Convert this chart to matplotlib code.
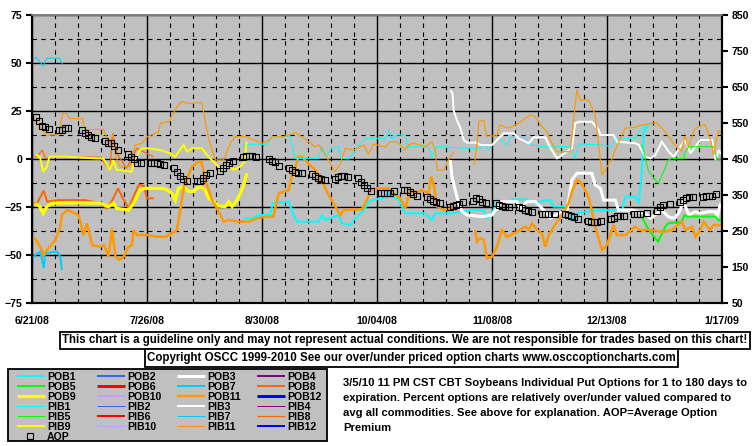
import numpy as np
import matplotlib
matplotlib.use("Agg")
import matplotlib.pyplot as plt
from matplotlib.patches import Rectangle

plt.rcParams['font.family'] = ['Liberation Sans', 'DejaVu Sans']
plt.rcParams['font.weight'] = 'bold'

W, H, DPI = 755, 446, 100
nan = np.nan

# ---------------- data ----------------
x_label_days = [0, 35, 70, 105, 140, 175, 210]
x_labels = ["6/21/08", "7/26/08", "8/30/08", "10/04/08", "11/08/08", "12/13/08", "1/17/09"]
left_ticks = [-75, -50, -25, 0, 25, 50, 75]
right_ticks = [50, 150, 250, 350, 450, 550, 650, 750, 850]

PIB7_d = [0, 1.2, 3.4, 4.5, 8.3, 9.3]
PIB7_v = [51.5, 53, 48.5, 52.5, 52.5, 49.5]
POB7_d = [0, 1, 2.5, 3.6, 4, 7.6, 8.6, 9.1]
POB7_v = [-52.6, -50, -48.3, -56.8, -49, -48.3, -50.9, -57.8]

POB8_d = [0, 1.5, 3.6, 4.6, 8.1, 16.2, 20.7, 22.8, 24.3, 26.2, 27.4, 29.4, 30.9, 32.5, 34, 35, 37]
POB8_v = [-23.1, -23.1, -16.5, -22.2, -21.4, -21.4, -23, -25.7, -22, -15.3, -19.6, -25.7, -19.6, -13.5, -14, -20.5, -20.5]
PIB8_d = [0, 1.6, 3.1, 4.2, 5.5, 20.7, 23.7, 24.6, 25.8, 28.8, 31.9, 36.9]
PIB8_v = [1.2, 1.2, 4.7, 0, 1, 1, -5.7, 13.4, 3, -4.8, 5.6, 1.2]

PIB9_d = [1.2, 2.4, 3.4, 4.5, 5.3, 10.6, 19.7, 21.7, 23.7, 24.7, 25.8, 26.8, 30.3, 31.3, 32.9, 33.9, 35,
          38.9, 42, 43.5, 45, 46.2, 47.2, 48.7, 51.7, 53.7, 56.2, 57.7, 60.3, 61.3, 63.3, 64.8, 65.3]
PIB9_v = [2.1, 1.2, -6.6, -4, 1.2, 1.2, 0.3, 0.3, -5.7, -0.5, -5.7, -5.7, -6.6, -0.5, 4.7, 5.6, 5.6,
          4.7, 3, 1.2, 4.7, 7.3, 3.8, 5.6, 5.6, 1.2, -3.1, -5.7, -4, -5.7, -4, -1.4, 9]
POB9_d = [0.9, 2.4, 3.4, 4.5, 6.1, 12.2, 20.7, 23.3, 24.8, 25.8, 29.4, 30.9, 31.9, 32.9, 34.5, 40, 41.1,
          42.6, 43.6, 44.6, 46.2, 47.7, 49.2, 50.2, 51.2, 52.7, 53.8, 55.3, 56.8, 58.8, 59.9, 60.9, 62.4,
          63.4, 64.4, 65.4]
POB9_v = [-23.1, -24.8, -28.3, -24.8, -23.1, -22.8, -23, -24.8, -23, -25.7, -26.6, -23.1, -19.6, -16.1,
          -15.3, -15.3, -16.1, -17.9, -21.4, -15.3, -14.4, -17, -17, -15.3, -14.4, -16.1, -20.5, -22.2,
          -24.5, -24.8, -22.2, -24.8, -21.4, -17.9, -13.5, -7.4]

PIB11_d = [0, 1.4, 4.3, 8.1, 9.3, 10.6, 11.4, 15.4, 16.1, 18.8, 21.8, 22.8, 23.7, 24.6, 25.6, 26.8, 29.8,
           31.4, 33.5, 35, 38.6, 39, 41.6, 44.1, 45.7, 47.2, 51.7, 53.8, 55.8, 58.3, 60.3, 61.8, 65.3,
           67.4, 70.4, 72.4, 73.4, 76.5, 80.3, 82.1, 84.1, 86.1, 87.3, 89.3, 92.2, 93.7, 95.4, 97.9,
           101, 102.4, 103.9, 107.5, 109, 111.1, 112.6, 113.6, 114.6, 116.2, 119.7, 121.7, 122.7, 123.3,
           125.4, 126.9, 128.4, 131, 134.6, 135.4, 136, 137.5, 138, 138.4, 141.4, 142.4, 145, 148, 151.6,
           153.1, 155.1, 157.1, 157.7, 159.7, 163.8, 165.8, 166.8, 169.3, 171.3, 173.5, 175, 176.4, 177.5,
           180.5, 183.5, 185.5, 190.1, 192.7, 195.2, 197.7, 198.7, 199.7, 201.8, 204.8, 206.8, 207.4,
           208.9, 210]
PIB11_v = [22.9, 18.6, 12.5, 12.5, 23.8, 23.8, 21, 21, 15.2, 15.4, 15.4, 10.8, 8, 13, 1, -4, -4,
           7.3, 8.2, 11.6, 14.2, 18.6, 19.4, 27.2, 29.9, 29, 29.3, 9.9, -0.5, -0.5, 8.2, 11.6, 11.6,
           9.9, 8.2, 10.2, 11.6, 11.6, 13.7, 11.6, 9, 6.4, 7.3, 2.1, -6.6, -3.1, 5.6, 4.7,
           7.3, 2.6, 7.8, 6.2, 9, 9, 6.4, 4.7, 7.3, 8.2, 6.4, 9, 4.7, -5.7,
           -5.7, 0, 3.8, nan, -3.1, 6.4, 19.4, 20.3, 15, 12, 12, 17.7, 16, 18.6, 22.9,
           22, 17.2, 13.4, 9.9, 3.8, 3.8, 35.9, 30.7, 30.7, 23.8, -8.3, -4, -0.5, 4.7,
           16, 16.5, 17.7, 19, 14.2, 8.2, 4, 12, 6.4, 16, 18, 8.2, 2,
           15, 13.4]

POB11_d = [0, 1.2, 3, 3.4, 4.5, 7.1, 8.6, 9.1, 10.7, 14.2, 15.7, 16.7, 18.3, 20.8, 21.9, 23.3, 24.3, 25.4,
           26.6, 27.9, 29.2, 30.4, 30.9, 32, 35, 38, 40.6, 42.6, 44.1, 45.1, 46.2, 48.7, 50.7, 51.6, 52.7,
           54.8, 56.3, 58.3, 59.9, 62.9, 66, 68.4, 71.4, 73.4, 74.6, 75.1, 78.1, 79.1, 80.1, 81.1, 82.1,
           84.1, 86.2, 88.8, 90.3, 91.8, 93.8, 94.9, 100.4, 101.9, 103, 104.5, 108.6, 110.1, 112.1, 113.6,
           114.6, 115.1, 117.7, 118.7, 120.7, 121.5, 122.3, 123.3, 125.3, 127.8, 129.4, 132, 134.9, 135.4,
           136.4, 137.5, 138.5, 140, 141.5, 143, 144.6, 147.6, 150.1, 151.2, 152.2, 153.7, 155.2, 156.2,
           157.3, 159.8, 161.3, 163.3, 164.3, 165.9, 166.9, 168.9, 169.9, 171.4, 173.5, 175, 177, 178,
           180.6, 183.6, 185.1, 188.7, 191.7, 194.8, 197.8, 198.8, 200.9, 201.9, 203.4, 204.4, 206.4,
           207.4, 210]
POB11_v = [-40.5, -42, -47.4, -50, -47.4, -42.2, -35.3, -29.2, -26.6, -29.2, -39.6, -33.5, -44.8, -45.7,
           -44.8, -50.9, -36.1, -50.9, -52.6, -50.9, -46, -44.8, -37, -39.6, -39.6, -40.5, -40.5, -38.7,
           -37, -26.6, -14.4, -4, -1.4, -1.4, -10.9, -21.4, -25.7, -32.6, -31.8, -32.6, -32.6, -30.9,
           -30, -30, -21.4, -17.9, -16.1, -8.3, -4.8, 1.2, 1.2, -2.3, -5.7, -13.5, -18.8, -23.1, -29.2,
           -26.6, -26.2, -21.4, -16.1, -15.3, -15.3, -17.9, -20.5, -25.7, -19.6, -17, -17, -16.1, -17.9,
           -9.2, -13.5, -24.8, -26.6, -25.7, -26.6, nan, -37, -43.1, -41.3, -42.2, -51.7, -50.9, -45.7,
           -37, -40.5, -37.9, -35.3, -37, -33.5, -37, -38.7, -45.7, -39.6, -32.6, -29.2, -23.1, -17,
           -10.9, -11.8, -17.9, -23.1, -35.3, -47.4, -44.8, -34.4, -39.6, -39.6, -35.3, -37, -37, -37.9,
           -37, -32.6, -37, -35.3, -40.5, -37, -32.6, -37, -34.4, -34.4]

POB1_d = [64.3, 67.4, 68.9, 72.4, 73.3, 78.1, 79.6, 80.7, 87.3, 88.3, 89.3, 93.3, 94.3, 96.9, 97.9, 99.4,
          101, 102.5, 103.5, 106.5, 108, 108.6, 109.1, 111.6, 113.6, 119.7, 121.7, 122.7, 127.8, 130.9,
          134.9, 137.5, 138.5, 140, 140.9, 141.5, 145.1, 146.1, 150.1, 151.2, 153.2, 155.7, 157.7, 158.8,
          162.3, 163.8, 164.9, 165.9, 168.4, 175.5, 179.6, 180.6, 183.6, 184.7, 185.5, 186.2, 187.6]
POB1_v = [-30.9, -30.9, -29.2, -29.2, -23.1, -22.2, -29.2, -32.6, -32.6, -29.2, -31.8, -29.2, -33.5, -34.4,
          -31.8, -29.2, -26.6, -22.2, -21.4, -20.5, -19.6, -14.4, -19.6, -21, -28.3, -28.3, -31.8, -28.3,
          -28.3, -27.4, -26.6, -26.6, -30.9, -28.3, -24.8, -22.2, -23.1, -21, -21, -21.8, -23.1, -21.8,
          -21.4, -24.8, -24.8, -29.2, -31.8, -28.3, -27.4, -26.6, -26.6, -19.6, -19.6, -23.1, -8, 14.2, 17.7]

PIB1_d = [64.3, 69.4, 71.4, 73, 77.1, 78.5, 80.1, 85.2, 87, 88.3, 89.3, 91.3, 93.3, 94.3, 96.4, 98.9, 101.4,
          107.5, 108.6, 109.3, 110.1, 110.6, 113.6, 114.6, 120.2, 121.2, 121.7, 122.7, 123.3, 125.3, 130.9,
          136, 137.5, 139, 140, 142, 144.6, 145.6, 150.1, 151.7, 156.2, 164.3, 165.3, 166.4, 166.9, 173.5,
          176.5, 177.5, 183.6, 185.1, 187.2]
PIB1_v = [7.3, 7.8, 7.3, 11.6, 11.6, 11.6, 0.3, 0.3, 0.3, 6.4, 1.2, 5.6, 6.4, 0.3, 0, 5.6, 10.8,
          10.8, 15.1, 10.8, 10.8, 12.5, 12.5, 6.4, 6.4, 4.7, 0.3, 4.7, 6.4, 6.4, 5.6,
          5.6, 7.3, 4.7, 7.3, 10.8, 7.3, 11.3, 11.3, 7.3, 6.4, 6.4, 0.3, 7.3, 7.8, 7.3,
          6.4, 10.8, 10.8, 15.1, 17.7]

POB3_d = [127.3, 127.8, 128.8, 129.8, 130.9, 132.4, 137, 140, 143, 147.6, 148.6, 150.7, 153.2, 156.2, 157.7,
          160.3, 162.8, 164.3, 165.9, 170.4, 171.4, 173, 174, 177.5, 178.5, 182.6, 186.6, 188.2, 191.7,
          193.6, 195.3, 196.8, 198.3, 199.9, 201.8, 203.4, 206, 208, 208.5, 209.5]
POB3_v = [-0.5, -9.2, -16.1, -23.1, -27.4, -29.2, -30, -29.2, -22.2, -22.2, -25.7, -22.2, -22.2, -27.4,
          -30.9, -28.3, -27.4, -10.9, -7.4, -7.4, -13.5, -15.3, -21.4, -21.4, -26.6, -26.6, -28.3, -30.9,
          -26.6, -30, -30.9, -28.3, -22.2, -29.2, -27.5, -28.3, -27.4, -27.4, -30.9, -23.1]

PIB3_d = [127.3, 128, 128.3, 129.3, 130.4, 131.4, 132.4, 135.4, 136.4, 140, 143.6, 146.6, 148.1, 151.2,
          152.7, 156.2, 157.3, 158.8, 159.8, 162.8, 164.3, 165.3, 166.4, 170.4, 172.5, 173, 177, 178,
          183.6, 184.7, 186.6, 188.2, 189.7, 191.7, 193.8, 195.3, 197.3, 198.8, 200.4, 203.4, 207, 208,
          209, 210]
PIB3_v = [35.9, 34.2, 25.5, 20.3, 16, 9.9, 8.5, 8.5, 7.3, 7.3, 13.4, 13.4, 10.8, 8.2,
          11.3, 11.3, 7.3, 3, 0.3, 3.8, 5.6, 18.6, 19.4, 19.4, 15.1, 12.5, 12.5, 9,
          8.2, 7.3, 1.2, 0.3, 2, 9, 3.8, 1.2, 6.4, 9.9, 3, 9.9, 9.9, -0.5,
          4.7, 2.1]

PIB5_d = [185.5, 186.1, 187.6, 189.2, 190.6, 192.7, 193.6, 194.8, 198.3, 198.8, 199.9, 207.5, 208.4, 210]
PIB5_v = [7.3, 4.7, -6, -10, -12.7, -4.8, -0.5, 0.3, 0.3, 3.8, 6.4, 6.4, 0, -0.5]
POB5_d = [185.5, 187.6, 189.7, 190.6, 192.7, 193.6, 197.8, 198.6, 199.4, 208, 209, 210]
POB5_v = [-30, -36.5, -41.3, -43, -35.3, -33.5, -32.6, -29.2, -30, -30, -32, -32]

# AOP (right axis): trading days since 6/21/08 and values
AOP_days = [2, 3, 4, 5, 6, 9, 10, 11, 12, 16, 17, 18, 19, 20, 23, 24, 25, 26, 27, 30, 31, 32, 33, 34,
            37, 38, 39, 40, 41, 44, 45, 46, 47, 48, 51, 52, 53, 54, 55, 58, 59, 60, 61, 62, 65, 66, 67, 68, 69,
            73, 74, 75, 76, 79, 80, 81, 82, 83, 86, 87, 88, 89, 90, 93, 94, 95, 96, 97, 100, 101, 102, 103, 104,
            107, 108, 109, 110, 111, 114, 115, 116, 117, 118, 121, 122, 123, 124, 125, 128, 129, 130, 131, 132,
            135, 136, 137, 138, 139, 142, 143, 144, 145, 146, 149, 150, 151, 152, 153, 156, 157, 158, 160,
            163, 164, 165, 166, 167, 170, 171, 172, 173, 174, 177, 178, 179, 180, 181, 184, 185, 186, 188,
            191, 192, 193, 195, 198, 199, 200, 201, 202, 205, 206, 207, 208, 209]
AOP_vals = [566, 556, 542, 538, 533, 531, 531, 537, 537, 531, 523, 517, 512, 508, 500, 495, 494, 486, 475,
            464, 456, 449, 440, 440, 440, 440, 440, 436, 433, 424, 415, 403, 394, 389, 389, 389, 398, 406, 410,
            418, 424, 433, 440, 445, 456, 458, 458, 458, 455, 450, 445, 441, 431, 426, 420, 415, 412, 410,
            408, 404, 398, 394, 392, 394, 401, 404, 404, 401, 398, 387, 378, 369, 362, 356, 356, 356, 356, 362,
            364, 364, 359, 353, 348, 344, 338, 333, 330, 329, 318, 319, 322, 325, 331, 333, 341, 338, 331, 329,
            327, 322, 319, 318, 318, 316, 313, 308, 306, 302, 296, 296, 296, 296, 297, 294, 292, 288, 283,
            279, 274, 274, 276, 279, 283, 287, 292, 292, 292, 296, 297, 297, 299, 306, 316, 322, 325,
            331, 336, 341, 344, 345, 345, 347, 347, 348, 353]
AOP_SHIFT = 0.9  # squares sit slightly left of their trading day

legend_names = ['POB1', 'POB2', 'POB3', 'POB4', 'POB5', 'POB6', 'POB7', 'POB8', 'POB9', 'POB10', 'POB11',
                'POB12', 'PIB1', 'PIB2', 'PIB3', 'PIB4', 'PIB5', 'PIB6', 'PIB7', 'PIB8', 'PIB9', 'PIB10',
                'PIB11', 'PIB12']
styles = {
    'POB1': ('#00FFFF', 2), 'POB2': ('#3366FF', 2), 'POB3': ('#FFFFFF', 3), 'POB4': ('#800080', 2),
    'POB5': ('#00FF00', 2), 'POB6': ('#FF0000', 3), 'POB7': ('#00CCFF', 2), 'POB8': ('#FF6600', 2),
    'POB9': ('#FFFF00', 3.2), 'POB10': ('#CC99FF', 2), 'POB11': ('#FF9900', 2.5), 'POB12': ('#0000FF', 3),
    'PIB1': ('#00FFFF', 1), 'PIB2': ('#3366FF', 1), 'PIB3': ('#FFFFFF', 2), 'PIB4': ('#800080', 1),
    'PIB5': ('#00FF00', 1), 'PIB6': ('#FF0000', 2), 'PIB7': ('#00CCFF', 1), 'PIB8': ('#FF6600', 1.2),
    'PIB9': ('#FFFF00', 2), 'PIB10': ('#CC99FF', 1), 'PIB11': ('#FF9900', 1.2), 'PIB12': ('#0000FF', 2),
}
series = {
    'POB1': (POB1_d, POB1_v), 'POB3': (POB3_d, POB3_v), 'POB5': (POB5_d, POB5_v), 'POB7': (POB7_d, POB7_v),
    'POB8': (POB8_d, POB8_v), 'POB9': (POB9_d, POB9_v), 'POB11': (POB11_d, POB11_v),
    'PIB1': (PIB1_d, PIB1_v), 'PIB3': (PIB3_d, PIB3_v), 'PIB5': (PIB5_d, PIB5_v), 'PIB7': (PIB7_d, PIB7_v),
    'PIB8': (PIB8_d, PIB8_v), 'PIB9': (PIB9_d, PIB9_v), 'PIB11': (PIB11_d, PIB11_v),
}

disclaimer = "This chart is a guideline only and may not represent actual conditions. We are not responsible for trades based on this chart!"
copyright_txt = "Copyright OSCC 1999-2010 See our over/under priced option charts www.osccoptioncharts.com"
note_lines = ["3/5/10 11 PM CST CBT Soybeans Individual Put Options for 1 to 180 days to",
              "expiration. Percent options are relatively over/under valued compared to",
              "avg all commodities. See above for explanation. AOP=Average Option",
              "Premium"]

PX = 0.72  # points per pixel
FS = 7.6
FS_TXT = 8.3

# ---------------- figure ----------------
fig = plt.figure(figsize=(W / DPI, H / DPI), dpi=DPI, facecolor='white')
ax = fig.add_axes([32 / W, (H - 303) / H, 690 / W, 288 / H])
ax.set_facecolor('#C0C0C0')
ax.set_xlim(0, 210)
ax.set_ylim(-75, 75)
ax.set_xticks(x_label_days)
ax.set_xticklabels(x_labels)
ax.set_xticks([d for d in range(0, 211, 7) if d % 35], minor=True)
ax.set_yticks(left_ticks)
ax.set_yticks([v for v in np.arange(-62.5, 75, 25)], minor=True)
ax.grid(which='major', color='black', lw=1.0, ls='-')
ax.grid(which='minor', color='black', lw=0.8, ls=(0, (4, 4)))
ax.set_axisbelow(True)
ax.tick_params(which='minor', length=0)
ax.tick_params(axis='y', which='major', length=4, width=1.5, direction='out', pad=3, labelsize=FS)
ax.tick_params(axis='x', which='major', length=0, pad=9, labelsize=FS)
for lab in ax.get_xticklabels() + ax.get_yticklabels():
    lab.set_fontweight('bold')

for name in legend_names:
    if name in series:
        d, v = series[name]
        c, w = styles[name]
        ax.plot(d, v, color=c, lw=w * PX, solid_capstyle='butt', solid_joinstyle='miter', zorder=3)

ax2 = ax.twinx()
ax2.set_ylim(50, 850)
ax2.set_yticks(right_ticks)
ax2.tick_params(axis='y', length=4, width=1.5, direction='out', pad=3, labelsize=FS)
for lab in ax2.get_yticklabels():
    lab.set_fontweight('bold')
ax2.plot(np.array(AOP_days) - AOP_SHIFT, AOP_vals, ls='none', marker='s', ms=4.8,
         mfc='none', mec='black', mew=0.8, zorder=4)

for a in (ax, ax2):
    for s in ('left', 'right', 'bottom'):
        a.spines[s].set_color('black')
        a.spines[s].set_linewidth(1.5)
    a.spines['top'].set_color('#808080')
    a.spines['top'].set_linewidth(1.2)


def fx(x):
    return x / W


def fy(y):
    return 1 - y / H


def box(x0, y0, x1, y1, fc):
    fig.add_artist(Rectangle((fx(x0), fy(y1)), (x1 - x0) / W, (y1 - y0) / H, transform=fig.transFigure,
                             fc=fc, ec='black', lw=1.3, zorder=1))


box(60, 332, 750, 349, 'white')
fig.text(fx(405), fy(340.5), disclaimer, ha='center', va='center', fontsize=FS_TXT, fontweight='bold', zorder=2)
box(145, 349, 678, 367, 'white')
fig.text(fx(411.5), fy(358), copyright_txt, ha='center', va='center', fontsize=FS_TXT, fontweight='bold', zorder=2)

# legend
box(8, 369, 327, 441, '#C0C0C0')
lax = fig.add_axes([8 / W, fy(441), 319 / W, 72 / H])
lax.set_zorder(5)
lax.patch.set_visible(False)
lax.set_xlim(0, 319)
lax.set_ylim(72, 0)
lax.axis('off')
for i, name in enumerate(legend_names):
    r, c = divmod(i, 4)
    y = 7 + 10 * r
    x0 = 9 + 80 * c
    col, w = styles[name]
    lax.plot([x0, x0 + 28], [y, y], color=col, lw=w * PX, solid_capstyle='butt')
    lax.text(x0 + 30, y + 0.5, name, va='center', ha='left', fontsize=7.6, fontweight='bold')
lax.plot([22], [67], ls='none', marker='s', ms=3.8, mfc='none', mec='black', mew=0.8)
lax.text(39, 67.5, 'AOP', va='center', ha='left', fontsize=7.6, fontweight='bold')

for i, line in enumerate(note_lines):
    fig.text(fx(343), fy(383 + 15 * i), line, ha='left', va='center', fontsize=8.1, fontweight='bold')

fig.savefig('out.png', dpi=DPI, facecolor='white')
